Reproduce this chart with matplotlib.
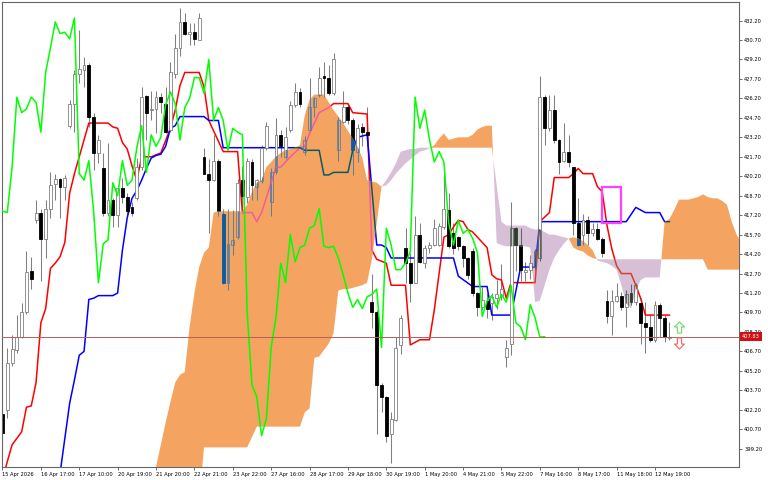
import numpy as np
import matplotlib.pyplot as plt
from matplotlib.path import Path
from matplotlib.patches import Rectangle
from matplotlib.transforms import blended_transform_factory

# hourly candles, bar 0 = 15 Apr 2026
opens = [401.9, 402.2, 405.8, 406.8, 407.8, 409.7, 412.9, 416.8, 417.4, 415.4,
         417.7, 419.6, 420.0, 419.4, 424.1, 425.8, 428.1, 428.4, 428.8, 424.8,
         422.0, 420.8, 417.4, 418.4, 417.2, 419.3, 418.6, 417.8, 418.5, 420.9,
         426.4, 425.3, 425.4, 426.3, 425.8, 423.8, 428.1, 430.1, 432.1, 431.2,
         431.3, 430.7, 421.7, 420.4, 419.9, 421.4, 417.3, 412.0, 414.9, 415.5,
         419.9, 418.6, 421.3, 419.4, 419.8, 422.4, 418.2, 420.5, 423.4, 421.7,
         423.8, 425.7, 426.7, 422.1, 423.8, 425.5, 426.5, 427.9, 427.8, 426.6,
         422.2, 424.4, 425.5, 424.5, 422.1, 424.0, 423.6, 410.5, 409.7, 404.1,
         403.2, 400.3, 401.4, 407.2, 414.7, 413.5, 412.0, 415.7, 413.5, 414.7,
         414.9, 414.9, 416.3, 417.6, 415.8, 415.5, 414.8, 413.9, 414.4, 411.2,
         410.1, 410.6, 410.4, 410.8, 411.0, 406.3, 407.3, 416.2, 414.9, 412.8,
         413.0, 413.2, 413.9, 426.3, 423.9, 425.3, 423.0, 421.4, 422.1, 420.9,
         416.6, 415.7, 416.8, 415.8, 416.1, 415.4, 410.6, 409.4, 410.6, 411.0,
         410.1, 411.2, 410.5, 410.4, 408.9, 408.6, 407.6, 410.3, 409.3, 407.75]
highs = [402.3, 407.0, 408.0, 409.5, 410.4, 414.4, 414.0, 418.4, 417.7, 418.4,
         420.5, 420.4, 420.1, 420.3, 426.1, 428.4, 431.5, 429.4, 428.9, 425.1,
         423.4, 422.0, 422.8, 418.5, 419.5, 420.1, 418.9, 418.2, 421.6, 427.1,
         426.5, 426.8, 426.8, 426.6, 427.1, 429.0, 431.2, 433.2, 432.8, 432.0,
         432.0, 432.8, 422.4, 421.5, 423.4, 421.5, 417.7, 417.7, 417.6, 420.0,
         421.0, 421.6, 421.5, 420.0, 422.6, 424.4, 420.8, 424.7, 423.8, 424.0,
         426.0, 427.4, 427.0, 423.3, 427.8, 426.3, 428.6, 429.0, 428.8, 429.7,
         424.8, 426.8, 425.8, 424.7, 424.2, 424.3, 425.5, 412.7, 409.9, 404.3,
         403.3, 402.0, 407.8, 409.5, 416.2, 414.3, 417.1, 416.6, 414.9, 415.1,
         416.9, 416.6, 420.7, 418.9, 416.6, 415.6, 414.9, 414.0, 414.7, 411.3,
         411.7, 411.2, 411.2, 412.2, 413.4, 407.6, 418.2, 416.3, 416.2, 413.6,
         414.1, 414.6, 427.9, 426.5, 426.5, 426.5, 423.1, 424.3, 423.4, 420.9,
         418.5, 417.3, 417.1, 416.6, 416.6, 415.5, 411.4, 411.4, 412.0, 411.3,
         411.4, 411.9, 412.0, 410.8, 410.5, 409.6, 410.6, 410.4, 409.5, 409.0]
lows = [399.9, 401.6, 405.6, 406.6, 407.7, 409.6, 411.5, 416.6, 412.1, 413.9,
        417.0, 418.4, 417.0, 418.4, 423.9, 423.6, 427.4, 427.1, 424.0, 420.7,
        421.2, 417.1, 417.1, 416.3, 416.3, 418.1, 417.1, 417.1, 418.4, 420.7,
        423.0, 424.5, 423.5, 425.1, 423.5, 423.6, 427.8, 429.5, 431.1, 430.3,
        430.3, 430.7, 420.4, 415.8, 419.8, 417.1, 411.9, 411.4, 414.1, 415.4,
        417.4, 418.1, 418.4, 418.4, 419.7, 422.2, 417.1, 420.4, 421.7, 421.5,
        423.6, 425.5, 425.5, 421.8, 423.6, 424.8, 426.3, 426.3, 426.5, 426.5,
        421.4, 424.3, 424.2, 420.3, 421.3, 422.5, 422.5, 408.5, 400.3, 402.0,
        399.7, 398.1, 401.3, 406.5, 412.0, 410.5, 412.0, 413.5, 413.1, 414.3,
        414.8, 414.8, 416.1, 414.7, 414.2, 414.5, 413.2, 412.3, 411.0, 409.4,
        409.9, 409.3, 409.1, 410.0, 410.7, 405.5, 406.4, 412.9, 412.1, 412.1,
        412.3, 413.0, 413.7, 422.6, 423.7, 422.8, 420.4, 421.3, 420.9, 415.7,
        414.8, 414.9, 414.9, 415.6, 415.3, 414.0, 408.9, 408.0, 410.5, 409.9,
        408.6, 410.3, 410.3, 407.3, 406.6, 407.4, 407.4, 407.8, 407.4, 407.6]
closes = [400.4, 405.8, 406.9, 407.8, 409.7, 412.8, 412.3, 417.4, 415.4, 417.7,
          419.5, 420.0, 419.4, 420.1, 425.8, 428.1, 428.5, 428.8, 424.8, 422.0,
          423.0, 417.4, 418.4, 417.2, 419.3, 418.6, 417.5, 417.4, 420.9, 426.3,
          425.1, 425.4, 426.3, 425.9, 423.6, 428.2, 430.1, 432.1, 431.2, 431.3,
          430.8, 432.4, 420.4, 419.9, 421.4, 417.5, 412.0, 415.0, 415.3, 419.7,
          418.7, 421.4, 419.5, 419.9, 422.4, 424.1, 420.5, 423.4, 422.5, 423.2,
          425.7, 426.7, 425.8, 423.0, 425.5, 426.2, 427.8, 427.8, 426.6, 429.2,
          424.5, 425.5, 424.5, 422.2, 423.9, 423.6, 423.4, 409.7, 404.1, 403.2,
          400.2, 401.5, 407.0, 409.3, 413.5, 412.0, 415.7, 413.6, 414.7, 414.9,
          416.2, 416.4, 417.7, 414.8, 414.7, 414.8, 413.9, 412.6, 411.2, 410.1,
          410.7, 410.0, 410.9, 411.1, 411.5, 407.0, 416.2, 414.9, 413.0, 413.0,
          413.5, 414.4, 426.3, 423.9, 425.3, 423.0, 421.3, 422.1, 421.3, 416.6,
          414.9, 416.8, 415.8, 416.1, 415.4, 414.3, 409.4, 410.6, 411.0, 410.1,
          411.1, 410.5, 411.8, 408.9, 408.6, 407.6, 410.3, 409.3, 407.8, 407.83]

tenkan_bars = [0, 1, 2, 4, 5, 6, 7, 8, 9, 10, 11, 12, 13, 14, 15, 16, 17, 18, 22, 23,
               24, 25, 26, 27, 28, 29, 31, 33, 35, 36, 37, 38, 41, 42, 43, 46, 49, 50, 52, 53,
               54, 56, 57, 58, 60, 62, 63, 64, 66, 68, 69, 72, 73, 76, 77, 78, 80, 81, 84, 85,
               87, 89, 90, 92, 93, 94, 95, 96, 97, 98, 99, 100, 101, 102, 103, 104, 105, 106, 111, 112,
               114, 115, 118, 119, 120, 121, 123, 124, 125, 126, 127, 128, 129, 131, 132, 133, 134, 139]
tenkan_vals = [396.8, 398.2, 399.5, 400.5, 402.4, 402.5, 404.3, 408.9, 410.0, 413.1, 413.5, 414.0, 415.1, 418.9, 420.4, 421.7, 423.0, 424.3, 424.3, 424.0,
               423.9, 422.8, 422.3, 421.0, 419.9, 421.7, 421.7, 422.0, 423.9, 425.3, 427.2, 428.2, 428.2, 427.1, 424.5, 422.1, 422.1, 417.4, 417.4, 416.7,
               417.4, 419.7, 420.9, 420.9, 421.7, 422.4, 422.5, 423.5, 425.1, 425.5, 425.8, 425.8, 425.1, 425.0, 414.5, 413.8, 413.5, 411.8, 411.8, 407.2,
               407.6, 407.6, 409.9, 415.5, 415.7, 416.3, 416.8, 416.7, 416.1, 415.9, 415.5, 415.1, 414.7, 412.6, 412.3, 412.2, 410.8, 412.0, 412.0, 416.7,
               417.4, 420.1, 420.1, 420.4, 420.8, 420.4, 420.4, 419.4, 419.0, 416.4, 414.6, 413.3, 412.7, 412.7, 411.8, 410.8, 409.5, 409.5]

kijun_bars = [12, 14, 15, 16, 17, 18, 19, 20, 23, 24, 25, 26, 27, 28, 29, 30, 31, 32, 33, 34,
              35, 36, 37, 42, 43, 45, 46, 62, 63, 66, 67, 68, 69, 72, 73, 74, 76, 78, 79, 80,
              81, 94, 95, 98, 101, 102, 106, 108, 111, 112, 130, 132, 134, 137, 138, 139]
kijun_vals = [397.3, 402.7, 404.5, 406.4, 406.7, 410.7, 410.8, 411.0, 411.0, 411.2, 414.5, 417.0, 418.5, 419.1, 419.9, 420.8, 421.6, 421.8, 421.9, 422.5,
              423.9, 424.1, 424.8, 424.8, 424.5, 424.5, 422.4, 422.4, 422.2, 422.2, 420.3, 420.3, 420.5, 420.5, 422.2, 423.2, 423.4, 414.9, 414.9, 414.7,
              413.9, 413.9, 412.5, 411.7, 411.7, 409.5, 409.5, 413.2, 413.2, 416.7, 416.7, 417.8, 417.4, 417.4, 416.7, 416.7]

# senkou spans, already shifted 26 bars ahead; first value belongs to bar 31
cloud_start = 31
span_a = [396.0, 397.8, 399.5, 401.2, 402.8, 404.3, 404.9, 405.1, 408.6, 411.2,
          413.2, 414.3, 414.7, 417.4, 417.5, 417.5, 417.5, 417.5, 417.5, 417.5,
          418.0, 419.0, 419.7, 419.9, 420.9, 421.3, 421.7, 422.0, 422.2, 422.3,
          422.4, 422.6, 424.9, 426.1, 426.5, 426.5, 426.5, 425.9, 425.3, 424.8,
          424.3, 423.7, 423.1, 422.5, 421.6, 419.9, 419.8, 419.7, 419.4, 419.5,
          419.9, 420.4, 420.8, 421.2, 421.5, 421.8, 422.1, 422.2, 422.35, 422.6,
          423.1, 423.5, 423.0, 423.1, 423.2, 423.2, 423.2, 423.4, 423.8, 424.0,
          424.1, 424.1, 415.05, 414.9, 414.8, 414.8, 414.8, 414.8, 414.8, 414.7,
          410.5, 410.6, 411.8, 413.0, 413.9, 414.5, 415.0, 415.4, 415.5, 415.4,
          415.2, 414.9, 414.5, 413.7, 413.6, 413.5, 413.3, 413.0, 411.8, 410.4,
          410.0, 411.4, 412.2, 412.4, 412.4, 412.4, 412.4, 416.7, 416.9, 417.6,
          418.4, 418.4, 418.4, 418.5, 418.6, 418.8, 418.6, 418.5, 418.5, 418.3,
          418.0, 416.7, 415.7, 415.1]
span_b = [395.0, 395.0, 395.0, 395.0, 395.0, 395.0, 395.0, 395.0, 395.0, 395.0,
          395.0, 399.3, 399.3, 399.3, 399.3, 399.3, 399.3, 399.3, 399.3, 399.3,
          399.3, 400.1, 400.9, 400.9, 400.9, 400.9, 400.9, 400.9, 400.9, 400.9,
          400.9, 400.9, 402.0, 402.3, 406.2, 406.3, 406.8, 407.3, 408.1, 411.4,
          411.5, 411.5, 411.6, 411.7, 411.8, 412.0, 413.8, 416.6, 419.4, 419.9,
          420.5, 421.2, 422.1, 422.2, 422.3, 422.3, 422.4, 422.4, 422.4, 422.4,
          422.4, 422.4, 422.4, 422.4, 422.4, 422.4, 422.4, 422.4, 422.4, 422.4,
          422.4, 422.4, 419.5, 416.7, 416.4, 416.4, 416.4, 416.4, 416.4, 416.2,
          416.1, 416.1, 415.9, 415.7, 415.7, 415.6, 415.5, 415.4, 414.7, 414.5,
          414.4, 414.1, 413.9, 413.8, 413.8, 413.8, 413.8, 413.8, 413.8, 413.8,
          413.8, 413.8, 413.8, 413.8, 413.8, 413.8, 413.8, 413.8, 413.8, 413.8,
          413.8, 413.8, 413.8, 413.8, 413.8, 413.8, 413.0, 413.0, 413.0, 413.0,
          413.0, 413.0, 413.0, 413.0]

x_labels = ["15 Apr 2026", "16 Apr 17:00", "17 Apr 10:00", "20 Apr 19:00", "21 Apr 20:00",
            "22 Apr 21:00", "23 Apr 22:00", "27 Apr 16:00", "28 Apr 17:00", "29 Apr 18:00",
            "30 Apr 19:00", "1 May 20:00", "4 May 21:00", "5 May 22:00", "7 May 16:00",
            "8 May 17:00", "11 May 18:00", "12 May 19:00"]
last_price = 407.83

# magenta box object and the buy/sell arrows (chart objects, data coords)
box_bars = (124.85, 128.95)
box_prices = (416.6, 419.37)
arrow_bar = 140.9
arrow_up_price = 408.6
arrow_dn_price = 407.35

ORANGE = '#f4a460'
THISTLE = '#d8bfd8'
RED = '#ff0000'
BLUE = '#0000ff'
LIME = '#00ff00'


def mix(line, cloud):
    # MT4 paints the cloud over what is below it in xor style
    v = int(line[1:], 16) ^ int(cloud[1:], 16) ^ 0xffffff
    return '#%06x' % v


def draw_candles(ax, up_face, up_edge, dn_face, wick, z, clip=None):
    x = np.arange(len(opens))
    o = np.array(opens)
    c = np.array(closes)
    up = c >= o
    lo = np.minimum(o, c)
    hgt = np.maximum(np.abs(c - o), 0.06)
    arts = [ax.vlines(x, lows, highs, colors=wick, lw=0.75, zorder=z)]
    b1 = ax.bar(x[up], hgt[up], 0.6, lo[up], color=up_face, edgecolor=up_edge, lw=0.6, zorder=z + 0.1)
    b2 = ax.bar(x[~up], hgt[~up], 0.6, lo[~up], color=dn_face, edgecolor=dn_face, lw=0.6, zorder=z + 0.1)
    arts += list(b1) + list(b2)
    if clip is not None:
        for a in arts:
            a.set_clip_path(clip, ax.transData)


fig = plt.figure(figsize=(7.68, 4.8), dpi=100)
ax = fig.add_axes([0.0026, 0.0271, 0.9596, 0.9687])

draw_candles(ax, 'white', '#808080', 'black', '#808080', 2)
ax.plot(tenkan_bars, tenkan_vals, color=RED, lw=1.1, zorder=2)
ax.plot(kijun_bars, kijun_vals, color=BLUE, lw=1.1, zorder=2)

cx = np.arange(cloud_start, cloud_start + len(span_a))
sa = np.array(span_a)
sb = np.array(span_b)
f_up = ax.fill_between(cx, sa, sb, where=sa >= sb, interpolate=True, color=ORANGE, lw=0, zorder=3)
f_dn = ax.fill_between(cx, sa, sb, where=sa < sb, interpolate=True, color=THISTLE, lw=0, zorder=3)

for fill, cc, wk in ((f_up, ORANGE, '#5f7f9f'), (f_dn, THISTLE, '#5f6a5f')):
    clip = Path.make_compound_path(*fill.get_paths())
    draw_candles(ax, 'none', wk, mix('#000000', cc), wk, 4, clip)
    for bars, vals, col in ((tenkan_bars, tenkan_vals, RED), (kijun_bars, kijun_vals, BLUE)):
        ln, = ax.plot(bars, vals, color=mix(col, cc), lw=1.1, zorder=4)
        ln.set_clip_path(clip, ax.transData)

# chikou span = close moved 26 bars back
ax.plot(np.arange(len(closes) - 26), closes[26:], color=LIME, lw=1.1, zorder=5)

ax.axhline(last_price, color='#b85c5c', lw=0.7, zorder=6)
ax.add_patch(Rectangle((box_bars[0], box_prices[0]), box_bars[1] - box_bars[0],
                       box_prices[1] - box_prices[0], fill=False, edgecolor='#ff40ff',
                       lw=1.6, zorder=7))

up_arrow = Path([(0, 1), (0.9, 0.1), (0.38, 0.1), (0.38, -1), (-0.38, -1), (-0.38, 0.1),
                 (-0.9, 0.1), (0, 1)], closed=True)
dn_arrow = Path([(x, -y) for x, y in up_arrow.vertices], closed=True)
ax.plot([arrow_bar], [arrow_up_price], marker=up_arrow, ms=8, mfc='white', mec='#66dd66', mew=0.8, zorder=7)
ax.plot([arrow_bar], [arrow_dn_price], marker=dn_arrow, ms=8, mfc='white', mec='#ff6060', mew=0.8, zorder=7)

ax.set_xlim(-0.1, 153.5)
ax.set_ylim(397.79, 433.63)

ax.yaxis.tick_right()
ax.set_yticks(np.arange(399.2, 432.3, 1.5))
ax.set_yticklabels(['%.2f' % v for v in np.arange(399.2, 432.3, 1.5)])
ax.set_xticks(np.arange(0, 8 * len(x_labels), 8))
ax.set_xticklabels(x_labels)
ax.tick_params(axis='both', direction='out', length=2.5, width=0.6, color='#555555',
               labelsize=3.7, pad=1.2, labelcolor='black')
for t in ax.get_xticklabels():
    t.set_horizontalalignment('left')
for s in ax.spines.values():
    s.set_color('#666666')
    s.set_linewidth(0.8)

tr = blended_transform_factory(ax.transAxes, ax.transData)
ax.text(1.004, last_price, '%.2f' % last_price, transform=tr, fontsize=3.7, color='white',
        ha='left', va='center', zorder=8,
        bbox=dict(boxstyle='square,pad=0.35', fc='#d01010', ec='none'))

fig.savefig('out.png', dpi=100)
